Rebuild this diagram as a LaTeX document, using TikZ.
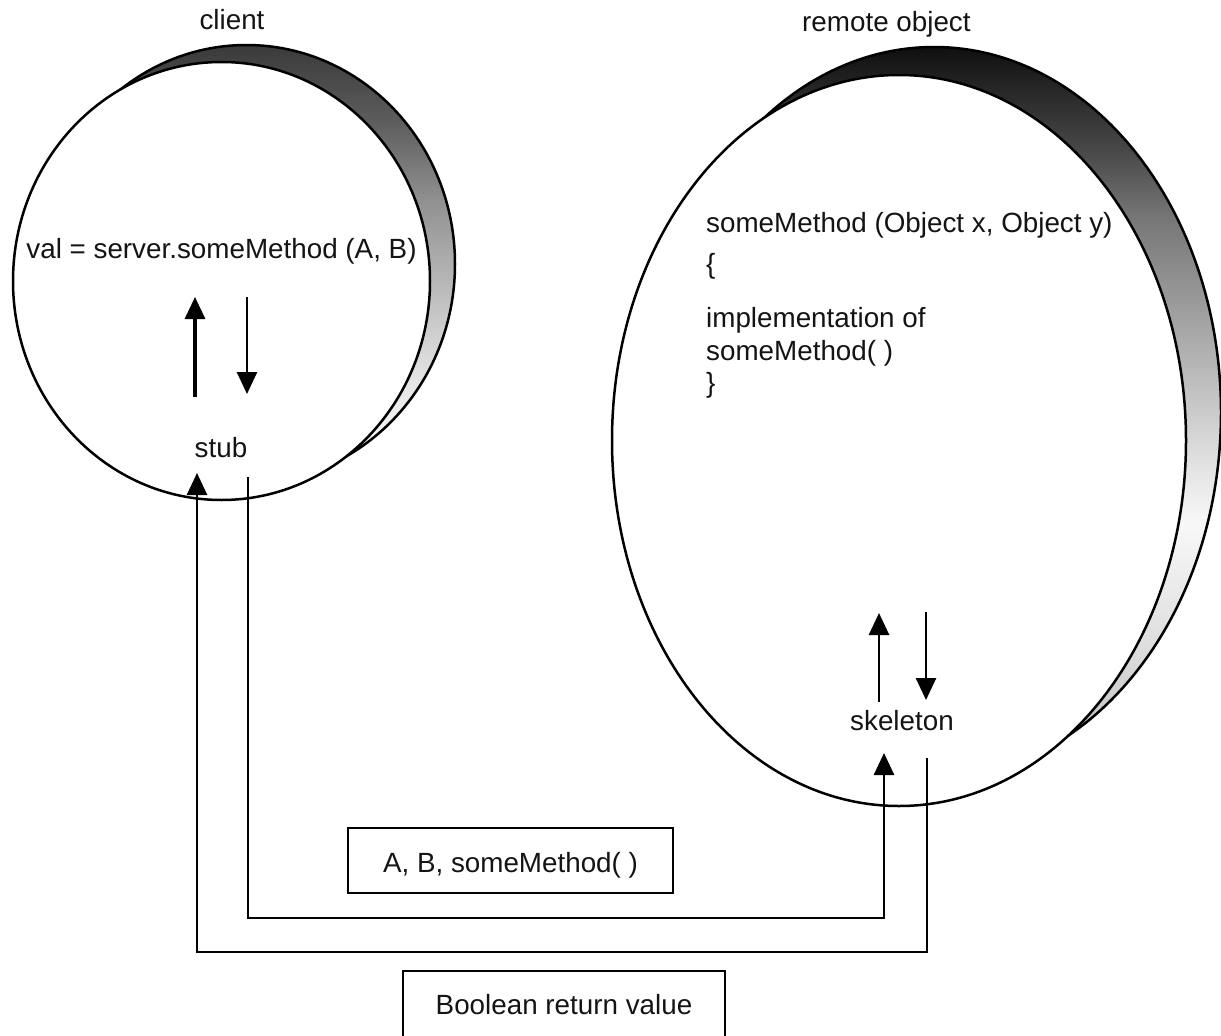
\documentclass[tikz,border=0pt]{standalone}
\usepackage{fontspec}
\setmainfont{Liberation Sans}
\usetikzlibrary{arrows.meta}

% Shaded rims of the two objects: dark at the top, fading towards the bottom
\pgfdeclareverticalshading{clientshade}{100bp}{%
  rgb(0bp)=(1,1,1); rgb(25bp)=(1,1,1);
  rgb(28.8bp)=(.973,.973,.973); rgb(36.8bp)=(.894,.894,.894);
  rgb(45.9bp)=(.753,.753,.753); rgb(57.3bp)=(.565,.565,.565);
  rgb(66.4bp)=(.361,.361,.361); rgb(75bp)=(.227,.227,.227);
  rgb(100bp)=(.227,.227,.227)}
\pgfdeclareverticalshading{remoteshade}{100bp}{%
  rgb(0bp)=(.706,.706,.706); rgb(25bp)=(.706,.706,.706);
  rgb(26bp)=(.722,.722,.722); rgb(33.5bp)=(.863,.863,.863);
  rgb(42.4bp)=(.973,.973,.973); rgb(46.5bp)=(.886,.886,.886);
  rgb(55.4bp)=(.659,.659,.659); rgb(63.6bp)=(.455,.455,.455);
  rgb(67.7bp)=(.29,.29,.29); rgb(75bp)=(.06,.06,.06);
  rgb(100bp)=(.06,.06,.06)}

\begin{document}
\begin{tikzpicture}[x=1pt,y=-1pt,
  every node/.style={font=\fontsize{27.8}{33}\selectfont, inner sep=0pt, text=black!92},
  outline/.style={draw=black, line width=2.5pt},
  flow/.style={line width=2.7pt, -{Triangle[length=22pt,width=20pt]}},
  msgbox/.style={draw, line width=2.6pt, inner sep=0pt}]
\useasboundingbox (0,0) rectangle (1221,1036);
\clip (0,0) rectangle (1221,1036);

% client object
\shadedraw[shading=clientshade, outline] (246.5,264) ellipse [x radius=208.5, y radius=219];
\filldraw[fill=white, outline] (221.5,281) ellipse [x radius=208.5, y radius=219];

% remote object
\shadedraw[shading=remoteshade, outline] (934,412.5) ellipse [x radius=287, y radius=365.5];
\filldraw[fill=white, outline] (899,440.5) ellipse [x radius=287, y radius=365.5];

% labels
\node[anchor=base] (clientlbl) at (232,29) {client};
\node[anchor=base west] (remotelbl) at (802,31) {remote object};

% client side
\node[anchor=base] (call) at (221.5,258) {val = server.someMethod (A, B)};
\node[anchor=base] (stub) at (221,457) {stub};
\coordinate (cup1) at (195,397);
\coordinate (cup2) at (195,297);
\coordinate (cdn1) at (247,297);
\coordinate (cdn2) at (247,394);
\draw[flow, line width=3.3pt] (cup1) -- (cup2);
\draw[flow] (cdn1) -- (cdn2);

% remote side
\node[anchor=base west] (sig) at (706,232) {someMethod (Object x, Object y)};
\node[anchor=base west] (lbrace) at (706,273) {\{};
\node[anchor=base west] (impl1) at (706,327) {implementation of};
\node[anchor=base west] (impl2) at (706,360) {someMethod( )};
\node[anchor=base west] (rbrace) at (706,392) {\}};
\node[anchor=base] (skeleton) at (902,730) {skeleton};
\coordinate (rup1) at (879,702);
\coordinate (rup2) at (879,613);
\coordinate (rdn1) at (926,612);
\coordinate (rdn2) at (926,700);
\draw[flow] (rup1) -- (rup2);
\draw[flow] (rdn1) -- (rdn2);

% call path: stub -> skeleton
\coordinate (stubout) at (248,477);
\coordinate (skelin) at (884,753);
\draw[flow] (stubout) -- ++(0,441) -| (skelin);

% return path: skeleton -> stub
\coordinate (skelout) at (927,758);
\coordinate (stubin) at (197,473);
\draw[flow] (skelout) -- ++(0,194) -| (stubin);

% message boxes
\node[msgbox, minimum width=325pt, minimum height=65pt, text height=24pt, text depth=0pt] (args) at (510.5,860.5) {A, B, someMethod( )};
\node[msgbox, minimum width=322pt, minimum height=67pt] (ret) at (564,1004.5) {Boolean return value};
\end{tikzpicture}
\end{document}
